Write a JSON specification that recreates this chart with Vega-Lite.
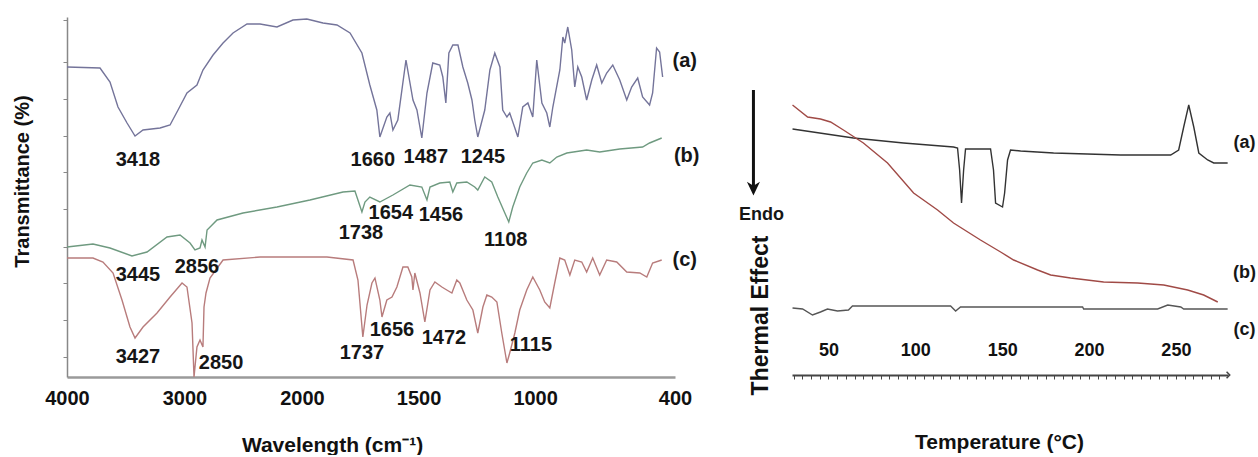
{
  "$schema": "https://vega.github.io/schema/vega-lite/v6.json",
  "autosize": {"type": "pad"},
  "padding": {"left": 12, "top": 16, "right": 0, "bottom": 0},
  "bounds": "flush",
  "spacing": 117,
  "background": "white",
  "resolve": {"scale": {"color": "independent"}},
  "config": {
    "view": {"stroke": null},
    "font": "Liberation Sans",
    "axis": {"grid": false, "labelFont": "Liberation Sans", "titleFont": "Liberation Sans", "labelFontWeight": "bold", "titleFontWeight": "bold", "labelColor": "#111", "titleColor": "#111"}
  },
  "datasets": {
    "ftir": [
      {"s":"a","w":4000,"t":310},{"s":"a","w":3719,"t":309},{"s":"a","w":3634,"t":295},{"s":"a","w":3566,"t":270},{"s":"a","w":3489,"t":254},{"s":"a","w":3421,"t":241},{"s":"a","w":3353,"t":247},{"s":"a","w":3208,"t":249},{"s":"a","w":3123,"t":252},{"s":"a","w":3055,"t":267},{"s":"a","w":2979,"t":284},{"s":"a","w":2894,"t":292},{"s":"a","w":2843,"t":307},{"s":"a","w":2757,"t":322},{"s":"a","w":2672,"t":334},{"s":"a","w":2587,"t":344},{"s":"a","w":2468,"t":353},{"s":"a","w":2357,"t":353},{"s":"a","w":2213,"t":350},{"s":"a","w":2077,"t":357},{"s":"a","w":1979,"t":358},{"s":"a","w":1910,"t":354},{"s":"a","w":1850,"t":352},{"s":"a","w":1794,"t":344},{"s":"a","w":1743,"t":324},{"s":"a","w":1709,"t":292},{"s":"a","w":1679,"t":267},{"s":"a","w":1666,"t":240},{"s":"a","w":1636,"t":260},{"s":"a","w":1623,"t":264},{"s":"a","w":1610,"t":247},{"s":"a","w":1589,"t":257},{"s":"a","w":1554,"t":317},{"s":"a","w":1524,"t":277},{"s":"a","w":1507,"t":267},{"s":"a","w":1486,"t":239},{"s":"a","w":1464,"t":284},{"s":"a","w":1439,"t":314},{"s":"a","w":1409,"t":312},{"s":"a","w":1396,"t":300},{"s":"a","w":1383,"t":274},{"s":"a","w":1370,"t":324},{"s":"a","w":1353,"t":332},{"s":"a","w":1331,"t":332},{"s":"a","w":1310,"t":310},{"s":"a","w":1289,"t":294},{"s":"a","w":1271,"t":277},{"s":"a","w":1259,"t":257},{"s":"a","w":1246,"t":240},{"s":"a","w":1216,"t":267},{"s":"a","w":1194,"t":307},{"s":"a","w":1173,"t":324},{"s":"a","w":1151,"t":310},{"s":"a","w":1139,"t":267},{"s":"a","w":1121,"t":260},{"s":"a","w":1109,"t":264},{"s":"a","w":1087,"t":249},{"s":"a","w":1074,"t":240},{"s":"a","w":1053,"t":270},{"s":"a","w":1031,"t":274},{"s":"a","w":1010,"t":260},{"s":"a","w":993,"t":317},{"s":"a","w":971,"t":274},{"s":"a","w":950,"t":264},{"s":"a","w":937,"t":250},{"s":"a","w":924,"t":270},{"s":"a","w":894,"t":307},{"s":"a","w":881,"t":340},{"s":"a","w":873,"t":334},{"s":"a","w":860,"t":350},{"s":"a","w":843,"t":327},{"s":"a","w":830,"t":290},{"s":"a","w":817,"t":310},{"s":"a","w":800,"t":300},{"s":"a","w":779,"t":277},{"s":"a","w":757,"t":297},{"s":"a","w":736,"t":312},{"s":"a","w":714,"t":294},{"s":"a","w":693,"t":304},{"s":"a","w":667,"t":312},{"s":"a","w":637,"t":297},{"s":"a","w":607,"t":277},{"s":"a","w":586,"t":290},{"s":"a","w":560,"t":299},{"s":"a","w":539,"t":280},{"s":"a","w":509,"t":272},{"s":"a","w":496,"t":284},{"s":"a","w":479,"t":329},{"s":"a","w":466,"t":325},{"s":"a","w":453,"t":300},
      {"s":"b","w":4000,"t":130},{"s":"b","w":3779,"t":133},{"s":"b","w":3634,"t":129},{"s":"b","w":3447,"t":121},{"s":"b","w":3319,"t":125},{"s":"b","w":3149,"t":140},{"s":"b","w":3038,"t":142},{"s":"b","w":2953,"t":134},{"s":"b","w":2911,"t":127},{"s":"b","w":2868,"t":129},{"s":"b","w":2851,"t":137},{"s":"b","w":2825,"t":130},{"s":"b","w":2808,"t":147},{"s":"b","w":2723,"t":157},{"s":"b","w":2502,"t":164},{"s":"b","w":2213,"t":170},{"s":"b","w":1966,"t":177},{"s":"b","w":1824,"t":185},{"s":"b","w":1773,"t":186},{"s":"b","w":1760,"t":177},{"s":"b","w":1743,"t":165},{"s":"b","w":1730,"t":175},{"s":"b","w":1709,"t":180},{"s":"b","w":1666,"t":175},{"s":"b","w":1610,"t":182},{"s":"b","w":1537,"t":192},{"s":"b","w":1486,"t":190},{"s":"b","w":1464,"t":177},{"s":"b","w":1451,"t":190},{"s":"b","w":1409,"t":194},{"s":"b","w":1366,"t":195},{"s":"b","w":1353,"t":185},{"s":"b","w":1336,"t":194},{"s":"b","w":1293,"t":195},{"s":"b","w":1259,"t":190},{"s":"b","w":1246,"t":187},{"s":"b","w":1216,"t":200},{"s":"b","w":1186,"t":195},{"s":"b","w":1160,"t":180},{"s":"b","w":1130,"t":164},{"s":"b","w":1113,"t":155},{"s":"b","w":1096,"t":170},{"s":"b","w":1066,"t":190},{"s":"b","w":1036,"t":204},{"s":"b","w":1010,"t":214},{"s":"b","w":971,"t":217},{"s":"b","w":937,"t":214},{"s":"b","w":907,"t":220},{"s":"b","w":864,"t":224},{"s":"b","w":779,"t":227},{"s":"b","w":723,"t":225},{"s":"b","w":637,"t":228},{"s":"b","w":539,"t":230},{"s":"b","w":509,"t":234},{"s":"b","w":457,"t":239},
      {"s":"c","w":4000,"t":119},{"s":"c","w":3779,"t":119},{"s":"c","w":3694,"t":115},{"s":"c","w":3608,"t":104},{"s":"c","w":3532,"t":77},{"s":"c","w":3464,"t":50},{"s":"c","w":3421,"t":39},{"s":"c","w":3353,"t":50},{"s":"c","w":3234,"t":64},{"s":"c","w":3123,"t":80},{"s":"c","w":3021,"t":94},{"s":"c","w":2979,"t":90},{"s":"c","w":2936,"t":54},{"s":"c","w":2919,"t":0},{"s":"c","w":2894,"t":30},{"s":"c","w":2868,"t":37},{"s":"c","w":2843,"t":30},{"s":"c","w":2834,"t":70},{"s":"c","w":2817,"t":84},{"s":"c","w":2783,"t":99},{"s":"c","w":2672,"t":117},{"s":"c","w":2357,"t":120},{"s":"c","w":1893,"t":120},{"s":"c","w":1781,"t":117},{"s":"c","w":1760,"t":97},{"s":"c","w":1739,"t":40},{"s":"c","w":1721,"t":72},{"s":"c","w":1700,"t":94},{"s":"c","w":1687,"t":99},{"s":"c","w":1666,"t":77},{"s":"c","w":1657,"t":60},{"s":"c","w":1636,"t":77},{"s":"c","w":1614,"t":80},{"s":"c","w":1593,"t":90},{"s":"c","w":1567,"t":110},{"s":"c","w":1546,"t":110},{"s":"c","w":1529,"t":100},{"s":"c","w":1524,"t":87},{"s":"c","w":1516,"t":104},{"s":"c","w":1494,"t":84},{"s":"c","w":1473,"t":55},{"s":"c","w":1451,"t":87},{"s":"c","w":1430,"t":95},{"s":"c","w":1400,"t":90},{"s":"c","w":1379,"t":87},{"s":"c","w":1357,"t":84},{"s":"c","w":1336,"t":97},{"s":"c","w":1323,"t":94},{"s":"c","w":1293,"t":77},{"s":"c","w":1267,"t":67},{"s":"c","w":1246,"t":44},{"s":"c","w":1224,"t":70},{"s":"c","w":1207,"t":82},{"s":"c","w":1186,"t":80},{"s":"c","w":1164,"t":75},{"s":"c","w":1143,"t":44},{"s":"c","w":1121,"t":14},{"s":"c","w":1109,"t":24},{"s":"c","w":1087,"t":44},{"s":"c","w":1066,"t":67},{"s":"c","w":1036,"t":87},{"s":"c","w":1010,"t":100},{"s":"c","w":980,"t":87},{"s":"c","w":959,"t":75},{"s":"c","w":937,"t":69},{"s":"c","w":916,"t":94},{"s":"c","w":894,"t":119},{"s":"c","w":873,"t":117},{"s":"c","w":851,"t":102},{"s":"c","w":830,"t":117},{"s":"c","w":800,"t":115},{"s":"c","w":779,"t":105},{"s":"c","w":753,"t":119},{"s":"c","w":723,"t":102},{"s":"c","w":693,"t":117},{"s":"c","w":650,"t":115},{"s":"c","w":607,"t":105},{"s":"c","w":551,"t":104},{"s":"c","w":521,"t":100},{"s":"c","w":496,"t":114},{"s":"c","w":457,"t":117}
    ],
    "ftirLabels": [
      {"label":"3418","w":3396,"t":217},{"label":"1660","w":1696,"t":217},{"label":"1487","w":1469,"t":220},{"label":"1245","w":1224,"t":220},
      {"label":"1738","w":1747,"t":144},{"label":"1654","w":1619,"t":164},{"label":"1456","w":1404,"t":162},{"label":"1108","w":1126,"t":137},
      {"label":"3445","w":3396,"t":102},{"label":"2856","w":2894,"t":110},{"label":"3427","w":3396,"t":20},{"label":"2850","w":2689,"t":14},
      {"label":"1737","w":1743,"t":24},{"label":"1656","w":1614,"t":47},{"label":"1472","w":1391,"t":39},{"label":"1115","w":1018,"t":32},
      {"label":"(a)","w":358,"t":316},{"label":"(b)","w":350,"t":221},{"label":"(c)","w":358,"t":117}
    ],
    "dsc": [
      {"s":"a","T":29.3,"h":246},{"s":"a","T":64.4,"h":237},{"s":"a","T":93.2,"h":232},{"s":"a","T":122.0,"h":228},{"s":"a","T":124.3,"h":227},{"s":"a","T":125.5,"h":205},{"s":"a","T":126.6,"h":172},{"s":"a","T":127.8,"h":205},{"s":"a","T":128.9,"h":226},{"s":"a","T":143.3,"h":226},{"s":"a","T":145.0,"h":205},{"s":"a","T":146.2,"h":172},{"s":"a","T":150.2,"h":168},{"s":"a","T":151.4,"h":182},{"s":"a","T":153.1,"h":215},{"s":"a","T":154.8,"h":225},{"s":"a","T":160.6,"h":224},{"s":"a","T":179.6,"h":222},{"s":"a","T":218.2,"h":220},{"s":"a","T":247.0,"h":220},{"s":"a","T":251.6,"h":225},{"s":"a","T":254.5,"h":248},{"s":"a","T":257.4,"h":270},{"s":"a","T":260.3,"h":248},{"s":"a","T":263.2,"h":222},{"s":"a","T":268.3,"h":215},{"s":"a","T":271.8,"h":212},{"s":"a","T":279.8,"h":212},
      {"s":"b","T":29.3,"h":270},{"s":"b","T":38.0,"h":258},{"s":"b","T":45.4,"h":256},{"s":"b","T":51.2,"h":253},{"s":"b","T":58.6,"h":245},{"s":"b","T":70.1,"h":232},{"s":"b","T":84.0,"h":212},{"s":"b","T":99.0,"h":182},{"s":"b","T":112.8,"h":165},{"s":"b","T":122.0,"h":152},{"s":"b","T":137.5,"h":135},{"s":"b","T":149.1,"h":123},{"s":"b","T":156.6,"h":115},{"s":"b","T":170.4,"h":105},{"s":"b","T":177.9,"h":100},{"s":"b","T":189.4,"h":97},{"s":"b","T":208.4,"h":93},{"s":"b","T":228.0,"h":92},{"s":"b","T":243.0,"h":90},{"s":"b","T":256.8,"h":85},{"s":"b","T":266.0,"h":80},{"s":"b","T":274.1,"h":73},
      {"s":"c","T":29.3,"h":67},{"s":"c","T":35.1,"h":66},{"s":"c","T":40.8,"h":60},{"s":"c","T":45.4,"h":63},{"s":"c","T":49.4,"h":66},{"s":"c","T":55.2,"h":64},{"s":"c","T":61.5,"h":65},{"s":"c","T":63.8,"h":69},{"s":"c","T":84.0,"h":69},{"s":"c","T":120.3,"h":69},{"s":"c","T":123.2,"h":64},{"s":"c","T":126.0,"h":68},{"s":"c","T":179.6,"h":68},{"s":"c","T":196.3,"h":68},{"s":"c","T":196.9,"h":66},{"s":"c","T":239.5,"h":66},{"s":"c","T":245.3,"h":70},{"s":"c","T":252.8,"h":68},{"s":"c","T":254.5,"h":66},{"s":"c","T":279.8,"h":66}
    ],
    "dscLabels": [
      {"label":"(a)","T":289.5,"h":232},{"label":"(b)","T":289.5,"h":102},{"label":"(c)","T":289.5,"h":45},{"label":"Endo","T":11.4,"h":160}
    ],
    "arrow": [{"T":6.8,"top":285,"bottom":186}],
    "rulerEnd": [{"T":281,"h":0}]
  },
  "hconcat": [
    {
      "width": 608,
      "height": 360,
      "layer": [
        {
          "data": {"name": "ftir"},
          "mark": {"type": "line", "strokeWidth": 1.4},
          "encoding": {
            "x": {
              "field": "w", "type": "quantitative",
              "scale": {"domain": [4000, 2000, 400], "range": [0, 235, 608], "nice": false, "zero": false},
              "axis": {"values": [4000, 3000, 2000, 1500, 1000, 400], "tickCount": 20, "format": "d", "labelFontSize": 20, "labelPadding": 11, "tickSize": 0, "domainColor": "#9a9a9a", "domainWidth": 2.5, "labelFlush": false, "labelOverlap": false, "title": "Wavelength (cm⁻¹)", "titleFontSize": 21, "titleX": 265, "titleY": 68, "titleBaseline": "middle", "titleAlign": "center"}
            },
            "y": {
              "field": "t", "type": "quantitative",
              "scale": {"domain": [0, 360], "nice": false, "zero": false},
              "axis": {"values": [20, 57, 94, 130, 168, 205, 241, 278, 315, 357], "tickCount": 30, "labels": false, "tickSize": 4, "tickColor": "#888", "domainColor": "#888", "domainWidth": 1.5, "title": "Transmittance (%)", "titleFontSize": 20, "titleX": -45, "titleY": 164, "titleAlign": "center", "titleBaseline": "middle"}
            },
            "color": {"field": "s", "type": "nominal", "scale": {"domain": ["a", "b", "c"], "range": ["#74749a", "#6f9a80", "#b87c7c"]}, "legend": null}
          }
        },
        {
          "data": {"name": "ftirLabels"},
          "mark": {"type": "text", "font": "Liberation Sans", "fontWeight": "bold", "fontSize": 20, "color": "#161616", "align": "center", "baseline": "middle"},
          "encoding": {
            "x": {"field": "w", "type": "quantitative"},
            "y": {"field": "t", "type": "quantitative"},
            "text": {"field": "label"}
          }
        }
      ]
    },
    {
      "width": 436,
      "height": 358,
      "layer": [
        {
          "data": {"name": "dsc"},
          "mark": {"type": "line", "strokeWidth": 1.4},
          "encoding": {
            "x": {
              "field": "T", "type": "quantitative",
              "scale": {"domain": [29, 280], "nice": false, "zero": false},
              "axis": {"values": [30,35,40,45,50,55,60,65,70,75,80,85,90,95,100,105,110,115,120,125,130,135,140,145,150,155,160,165,170,175,180,185,190,195,200,205,210,215,220,225,230,235,240,245,250,255,260,265,270,275], "tickCount": 100, "format": "d", "labelExpr": "datum.value % 50 === 0 ? datum.label : ''", "labelFontSize": 18, "labelPadding": -38, "tickSize": 4, "tickColor": "#444", "domainColor": "#444", "domainWidth": 2, "labelFlush": false, "labelOverlap": false, "title": "Temperature (°C)", "titleFontSize": 21, "titleX": 207, "titleY": 67, "titleBaseline": "middle", "titleAlign": "center"}
            },
            "y": {
              "field": "h", "type": "quantitative",
              "scale": {"domain": [0, 358], "nice": false, "zero": false},
              "axis": {"domain": false, "ticks": false, "labels": false, "title": "Thermal Effect", "titleFontSize": 23, "titleX": -32, "titleY": 298, "titleAlign": "center", "titleBaseline": "middle"}
            },
            "color": {"field": "s", "type": "nominal", "scale": {"domain": ["a", "b", "c"], "range": ["#333333", "#a04a46", "#555555"]}, "legend": null}
          }
        },
        {
          "data": {"name": "dscLabels"},
          "mark": {"type": "text", "font": "Liberation Sans", "fontWeight": "bold", "fontSize": 18, "color": "#161616", "align": "center", "baseline": "middle", "clip": false},
          "encoding": {
            "x": {"field": "T", "type": "quantitative"},
            "y": {"field": "h", "type": "quantitative"},
            "text": {"field": "label"}
          }
        },
        {
          "data": {"name": "arrow"},
          "mark": {"type": "rule", "strokeWidth": 3, "color": "#111"},
          "encoding": {
            "x": {"field": "T", "type": "quantitative"},
            "y": {"field": "top", "type": "quantitative"},
            "y2": {"field": "bottom"}
          }
        },
        {
          "data": {"name": "arrow"},
          "mark": {"type": "point", "shape": "M-1,-1.1L0,1L1,-1.1L0,-0.5Z", "filled": true, "size": 170, "color": "#111", "opacity": 1},
          "encoding": {
            "x": {"field": "T", "type": "quantitative"},
            "y": {"field": "bottom", "type": "quantitative"}
          }
        },
        {
          "data": {"name": "rulerEnd"},
          "mark": {"type": "point", "shape": "M-1,-1L0,0L-1,1", "filled": false, "size": 40, "color": "#444", "strokeWidth": 1.5, "opacity": 1},
          "encoding": {
            "x": {"field": "T", "type": "quantitative"},
            "y": {"field": "h", "type": "quantitative"}
          }
        }
      ]
    }
  ]
}
